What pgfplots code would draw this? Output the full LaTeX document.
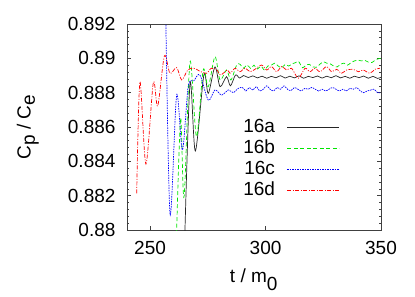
\documentclass[border=0pt]{standalone}
\usepackage{pgfplots}
\pgfplotsset{compat=1.18}
\usepackage{fontspec}
\setmainfont{Liberation Sans}
\begin{document}
\fontsize{19}{22}\selectfont
\begin{tikzpicture}
\begin{axis}[
  name=ax,
  scale only axis,
  width=254pt, height=206pt,
  xmin=240, xmax=350, ymin=0.88, ymax=0.892,
  xtick={250,300,350},
  ytick={0.88,0.882,0.884,0.886,0.888,0.89,0.892},
  yticklabels={0.88,0.882,0.884,0.886,0.888,0.89,0.892},
  minor y tick num=4,
  scaled y ticks=false,
  tick align=inside,
  major tick length=4pt, minor tick length=2.5pt,
  axis line style={line width=0.8pt, black!75},
  every tick/.style={black!75, line width=0.6pt},
  /pgf/number format/assume math mode=true,
  ticklabel style={font=\fontsize{19}{22}\selectfont},
  xticklabel style={yshift=-5pt},
  yticklabel style={xshift=-5pt},
  xlabel={t / m$_{\textrm{0}}$},
  ylabel={C$_{\textrm{p}}$ / C$_{\textrm{e}}$},
  every axis x label/.style={at={(axis description cs:0.5,-0.257)}, anchor=base},
  every axis y label/.style={at={(axis description cs:-0.39,0.5)}, rotate=90, anchor=center},
  legend style={at={(axis description cs:0.85,0.56)}, anchor=north east, draw=none, fill=none, font=\fontsize{19}{22}\selectfont, row sep=0.8pt},
  legend plot pos=right,
  legend cell align=right,
  legend image code/.code={\draw[#1] (0pt,0pt) -- (52pt,0pt);},
]
% 16a
\addplot[black!85, line width=0.7pt, smooth, tension=0.5] coordinates {
(264.9,0.8790) (267.3,0.88855) (269.6,0.88460) (273.3,0.88903) (275.2,0.88796)
(278.1,0.88950) (280.3,0.88835) (283.1,0.88893) (284.8,0.88840) (287.0,0.88903)
(288.8,0.88885) (290.5,0.88900) (292.5,0.88888) (294.5,0.88898) (296.5,0.88886)
(298.5,0.88896) (300.5,0.88884) (302.5,0.88895) (304.5,0.88887) (306.5,0.88899)
(308.5,0.88885) (310.5,0.88896) (312.5,0.88886) (314.5,0.88898) (316.5,0.88884)
(318.5,0.88895) (320.5,0.88888) (322.5,0.88897) (324.5,0.88885) (326.5,0.88896)
(328.5,0.88887) (330.5,0.88899) (332.5,0.88886) (334.5,0.88895) (336.5,0.88884)
(338.5,0.88896) (340.5,0.88887) (342.5,0.88897) (344.5,0.88884) (346.5,0.88895)
(348.5,0.88883) (350.0,0.88890)
};
\addlegendentry{16a\kern10pt}
% 16b
\addplot[green!90!black, line width=0.7pt, dash pattern=on 4pt off 2.5pt, smooth, tension=0.5] coordinates {
(261.3,0.8790) (263.2,0.88652) (264.7,0.88192) (267.3,0.88980) (270.1,0.88544)
(273.0,0.88932) (275.2,0.88835) (278.1,0.89010) (280.3,0.88874) (283.1,0.88932)
(285.0,0.88874) (287.5,0.88961) (289.0,0.88965) (290.4,0.88942) (292.0,0.88962)
(293.5,0.88942) (295.0,0.88960) (296.5,0.88938) (298.0,0.88955) (299.5,0.88932)
(301.0,0.88955) (302.5,0.88960) (304.0,0.88972) (305.5,0.88955) (307.0,0.88945)
(308.5,0.88965) (310.0,0.88955) (311.5,0.88968) (313.0,0.88975) (314.3,0.88982)
(316.0,0.88945) (317.5,0.88960) (319.0,0.88965) (320.5,0.88950) (322.0,0.88948)
(323.5,0.88965) (325.0,0.88980) (326.5,0.88972) (328.0,0.88968) (329.5,0.88955)
(331.0,0.88950) (332.5,0.88965) (334.0,0.88972) (335.5,0.88960) (337.0,0.88975)
(338.5,0.88985) (340.0,0.88990) (341.5,0.88985) (343.0,0.88988) (344.5,0.88978)
(346.0,0.88975) (347.5,0.88990) (349.0,0.88998) (350.0,0.89000)
};
\addlegendentry{16b\kern10pt}
% 16c
\addplot[blue, line width=0.7pt, dash pattern=on 1.5pt off 1pt, smooth, tension=0.5] coordinates {
(256.5,0.8950) (258.6,0.88097) (261.5,0.88786) (264.0,0.88466) (266.5,0.88835)
(269.0,0.88870) (271.6,0.88903) (275.2,0.88757) (278.1,0.88816) (281.0,0.88786)
(283.9,0.88816) (286.0,0.88800) (288.2,0.88825) (290.0,0.88830) (291.5,0.88810)
(293.0,0.88830) (294.5,0.88815) (296.0,0.88835) (297.5,0.88810) (299.0,0.88820)
(300.5,0.88840) (302.0,0.88820) (303.5,0.88810) (305.0,0.88830) (306.5,0.88820)
(308.0,0.88840) (309.5,0.88820) (311.0,0.88812) (312.5,0.88830) (314.0,0.88820)
(315.5,0.88810) (317.0,0.88825) (318.5,0.88820) (320.0,0.88830) (321.5,0.88820)
(323.0,0.88810) (324.5,0.88820) (326.0,0.88810) (327.5,0.88820) (329.0,0.88830)
(330.5,0.88820) (332.0,0.88810) (333.5,0.88820) (335.0,0.88810) (336.5,0.88825)
(338.0,0.88820) (339.5,0.88830) (341.0,0.88810) (342.5,0.88800) (344.0,0.88810)
(345.5,0.88815) (347.0,0.88820) (348.5,0.88800) (350.0,0.88800)
};
\addlegendentry{16c\kern10pt}
% 16d
\addplot[red, line width=0.7pt, dash pattern=on 4pt off 1.5pt on 1pt off 1.5pt, smooth, tension=0.5] coordinates {
(244.2,0.88214) (245.6,0.88864) (248.2,0.88384) (251.4,0.88858) (253.3,0.88722)
(256.2,0.89014) (258.6,0.88913) (261.5,0.88946) (263.7,0.88874) (266.3,0.88932)
(269.0,0.88942) (272.0,0.88922) (274.5,0.88913) (276.5,0.88942) (279.0,0.88932)
(280.5,0.88903) (283.5,0.88932) (284.6,0.88913) (286.8,0.88942) (288.9,0.88922)
(291.1,0.88942) (293.3,0.88922) (295.4,0.88936) (298.3,0.88961) (300.5,0.88932)
(302.6,0.88952) (304.8,0.88922) (307.0,0.88952) (309.1,0.88932) (311.3,0.88942)
(314.2,0.88884) (317.1,0.88942) (319.2,0.88922) (321.4,0.88942) (323.6,0.88922)
(326.4,0.88952) (328.6,0.88922) (330.8,0.88936) (332.9,0.88913) (335.1,0.88932)
(338.0,0.88936) (340.2,0.88922) (342.3,0.88932) (345.2,0.88913) (347.4,0.88936)
(349.5,0.88942)
};
\addlegendentry{16d\kern10pt}
\end{axis}
\path (ax.south west) ++(-127pt,-61pt) coordinate (bl);
\path (ax.north east) ++(34pt,24pt) coordinate (tr);
\path[use as bounding box] (bl) rectangle (tr);
\end{tikzpicture}
\end{document}
